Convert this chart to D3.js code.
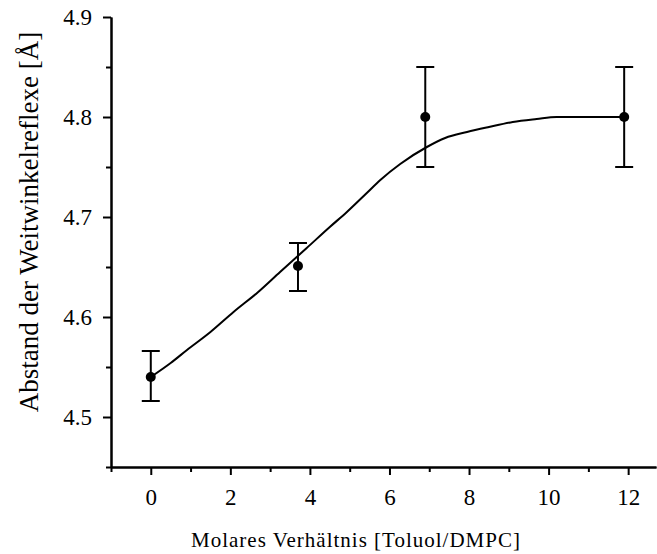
<!DOCTYPE html>
<html><head><meta charset="utf-8">
<script src="https://cdn.jsdelivr.net/npm/d3@7"></script>
<style>body{margin:0;background:#fff}svg{display:block}text{font-family:"Liberation Serif","Times New Roman",serif;fill:#000}</style>
</head><body>
<script>
const pointX = [0, 3.7, 6.9, 11.9];
const pointY = [4.54, 4.651, 4.80, 4.80];
const errLow = [4.516, 4.626, 4.75, 4.75];
const errHigh = [4.566, 4.674, 4.85, 4.85];
const curveX = [0, 0.5, 0.91, 1.5, 2.08, 2.7, 3.25, 3.92, 4.5, 4.93, 5.43, 5.77, 6.27, 6.94, 7.4, 7.95, 8.5, 9.1, 9.7, 10.2, 11.9];
const curveY = [4.54, 4.554, 4.567, 4.585, 4.605, 4.625, 4.645, 4.669, 4.690, 4.705, 4.724, 4.737, 4.753, 4.770, 4.779, 4.785, 4.790, 4.795, 4.798, 4.800, 4.800];
const xTicks = [0, 2, 4, 6, 8, 10, 12];
const xMinor = [-1, 1, 3, 5, 7, 9, 11];
const yTicks = [4.5, 4.6, 4.7, 4.8, 4.9];
const yMinor = [4.45, 4.55, 4.65, 4.75, 4.85];
const xTitle = "Molares Verhältnis [Toluol/DMPC]";
const yTitle = "Abstand der Weitwinkelreflexe [Å]";

const W = 657, H = 554;
const svg = d3.select("body").append("svg").attr("width", W).attr("height", H);
const x = d3.scaleLinear().domain([-1, 12.7]).range([111, 656]);
const y = d3.scaleLinear().domain([4.45, 4.9]).range([467, 17]);

const fmt = d3.format(".1f");
// x axis
const gx = svg.append("g").attr("transform", `translate(0,${y(4.45)})`);
gx.call(d3.axisBottom(x).tickValues(xTicks).tickSize(8).tickSizeOuter(0).tickPadding(14));
gx.append("g").call(d3.axisBottom(x).tickValues(xMinor).tickSize(5).tickSizeOuter(0).tickFormat(""));
// y axis
const gy = svg.append("g").attr("transform", `translate(${x(-1)},0)`);
gy.call(d3.axisLeft(y).tickValues(yTicks).tickSize(8).tickSizeOuter(0).tickPadding(11).tickFormat(fmt));
gy.append("g").call(d3.axisLeft(y).tickValues(yMinor).tickSize(5).tickSizeOuter(0).tickFormat(""));
svg.selectAll(".domain, .tick line").attr("stroke", "#000").attr("stroke-width", 2);
svg.selectAll(".tick text").attr("font-size", 23).style("font-family", '"Liberation Serif",serif');

// curve
svg.append("path")
  .datum(curveX.map((d, i) => [d, curveY[i]]))
  .attr("fill", "none").attr("stroke", "#000").attr("stroke-width", 2)
  .attr("d", d3.line().x(d => x(d[0])).y(d => y(d[1])).curve(d3.curveMonotoneX));

// error bars
const eb = svg.append("g").attr("stroke", "#000").attr("stroke-width", 2);
pointX.forEach((px, i) => {
  eb.append("line").attr("x1", x(px)).attr("x2", x(px)).attr("y1", y(errLow[i])).attr("y2", y(errHigh[i]));
  eb.append("line").attr("x1", x(px) - 9).attr("x2", x(px) + 9).attr("y1", y(errLow[i])).attr("y2", y(errLow[i]));
  eb.append("line").attr("x1", x(px) - 9).attr("x2", x(px) + 9).attr("y1", y(errHigh[i])).attr("y2", y(errHigh[i]));
});
svg.append("g").selectAll("circle").data(pointX).join("circle")
  .attr("cx", d => x(d)).attr("cy", (d, i) => y(pointY[i])).attr("r", 5).attr("fill", "#000");

// titles
svg.append("text").attr("x", 356).attr("y", 547).attr("text-anchor", "middle")
  .attr("font-size", 21).attr("letter-spacing", 1).text(xTitle);
svg.append("text").attr("transform", "translate(38,222) rotate(-90)").attr("text-anchor", "middle")
  .attr("font-size", 27).text(yTitle);
</script>
</body></html>
